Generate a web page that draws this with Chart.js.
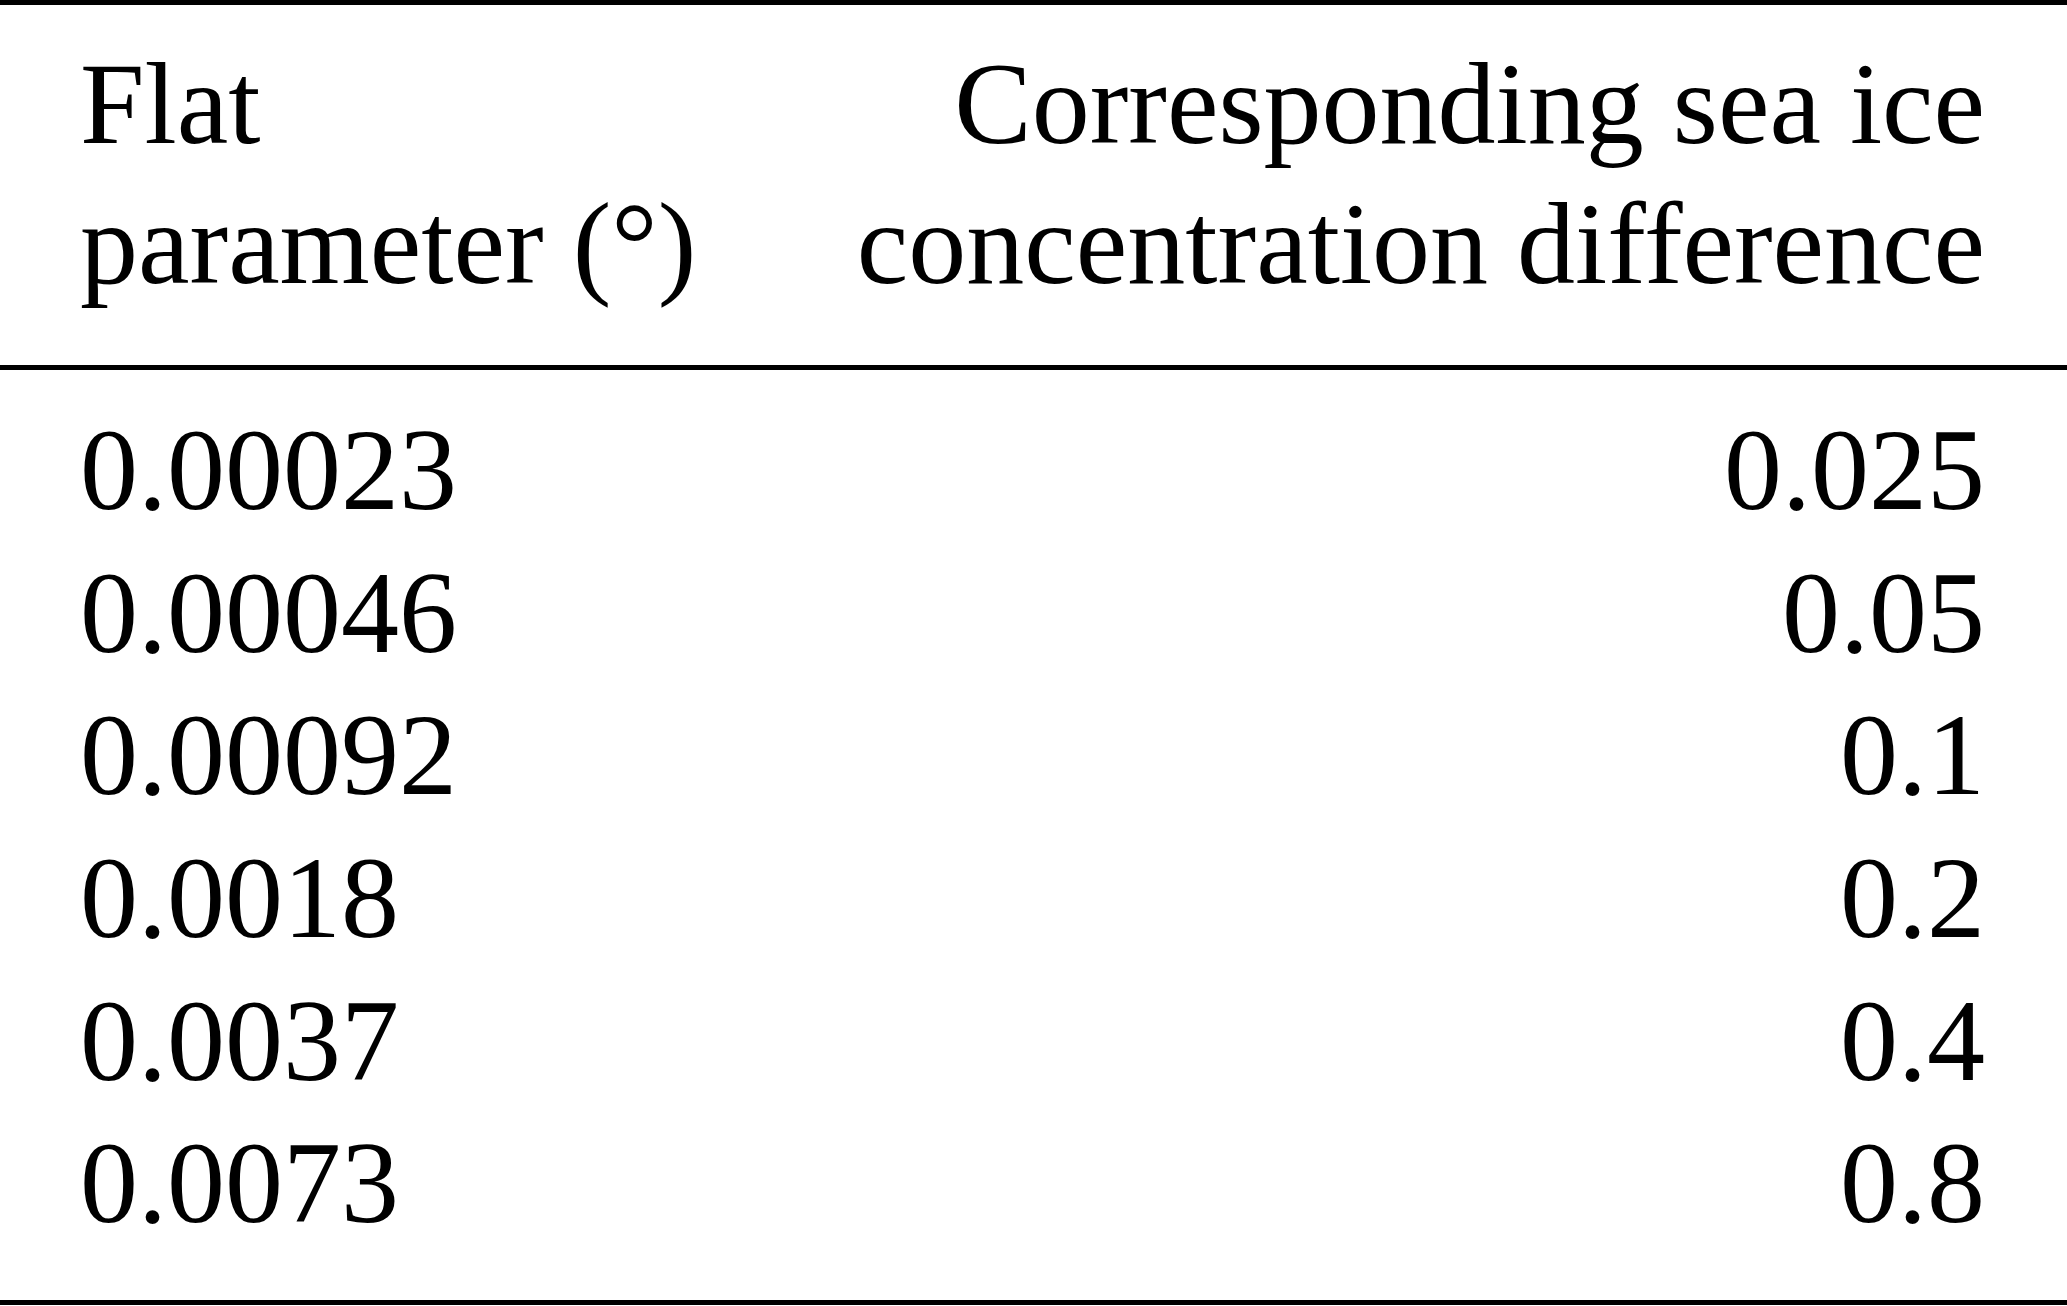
<!DOCTYPE html>
<html>
<head>
<meta charset="utf-8">
<script src="https://cdn.jsdelivr.net/npm/chart.js@4.4.1/dist/chart.umd.min.js"></script>
<style>
  html, body { margin: 0; padding: 0; background: #fff; }
  #wrap { width: 2067px; height: 1306px; }
</style>
</head>
<body>
<div id="wrap"><canvas id="tableChart" width="2067" height="1306"></canvas></div>
<script>
// table content
const headerLeft = ['Flat', 'parameter (°)'];
const headerRight = ['Corresponding sea ice', 'concentration difference'];
const flatParameter = ['0.00023', '0.00046', '0.00092', '0.0018', '0.0037', '0.0073'];
const iceDifference = ['0.025', '0.05', '0.1', '0.2', '0.4', '0.8'];

// row positions in "row units": data rows are 0..n-1, header lines sit above
const headerRows = [-2.567, -1.585];
const ruleRows = [-3.555, -0.996, 5.566];

const textFont = '116px "Liberation Serif", "Times New Roman", serif';

// left column (x=0) is left aligned, right column (x=1) is right aligned
const cellPoints = [];
headerLeft.forEach((t, i) => cellPoints.push({ x: 0, y: headerRows[i], text: t, align: 'left' }));
headerRight.forEach((t, i) => cellPoints.push({ x: 1, y: headerRows[i], text: t, align: 'right' }));
flatParameter.forEach((t, i) => cellPoints.push({ x: 0, y: i, text: t, align: 'left' }));
iceDifference.forEach((t, i) => cellPoints.push({ x: 1, y: i, text: t, align: 'right' }));

const cellText = {
    id: 'cellText',
    afterDatasetsDraw(chart) {
        const ctx = chart.ctx;
        const meta = chart.getDatasetMeta(0);
        ctx.save();
        ctx.font = textFont;
        ctx.fillStyle = '#000';
        ctx.textBaseline = 'alphabetic';
        meta.data.forEach((pt, i) => {
            const cell = cellPoints[i];
            ctx.textAlign = cell.align;
            ctx.fillText(cell.text, pt.x, pt.y);
        });
        ctx.restore();
    }
};

new Chart(document.getElementById('tableChart'), {
    type: 'scatter',
    data: {
        datasets: [{
            data: cellPoints.map(c => ({ x: c.x, y: c.y })),
            pointRadius: 0,
            pointHoverRadius: 0
        }]
    },
    options: {
        responsive: false,
        animation: false,
        events: [],
        layout: { padding: 0 },
        plugins: { legend: { display: false }, tooltip: { enabled: false } },
        scales: {
            x: {
                type: 'linear',
                min: -0.042,
                max: 1.043,
                display: false
            },
            y: {
                type: 'linear',
                reverse: true,
                min: -3.57,
                max: 5.588,
                afterBuildTicks(scale) {
                    scale.ticks = ruleRows.map(v => ({ value: v }));
                },
                border: { display: false },
                ticks: { display: false },
                grid: { color: '#000', lineWidth: 5, drawTicks: false }
            }
        }
    },
    plugins: [cellText]
});
</script>
</body>
</html>
